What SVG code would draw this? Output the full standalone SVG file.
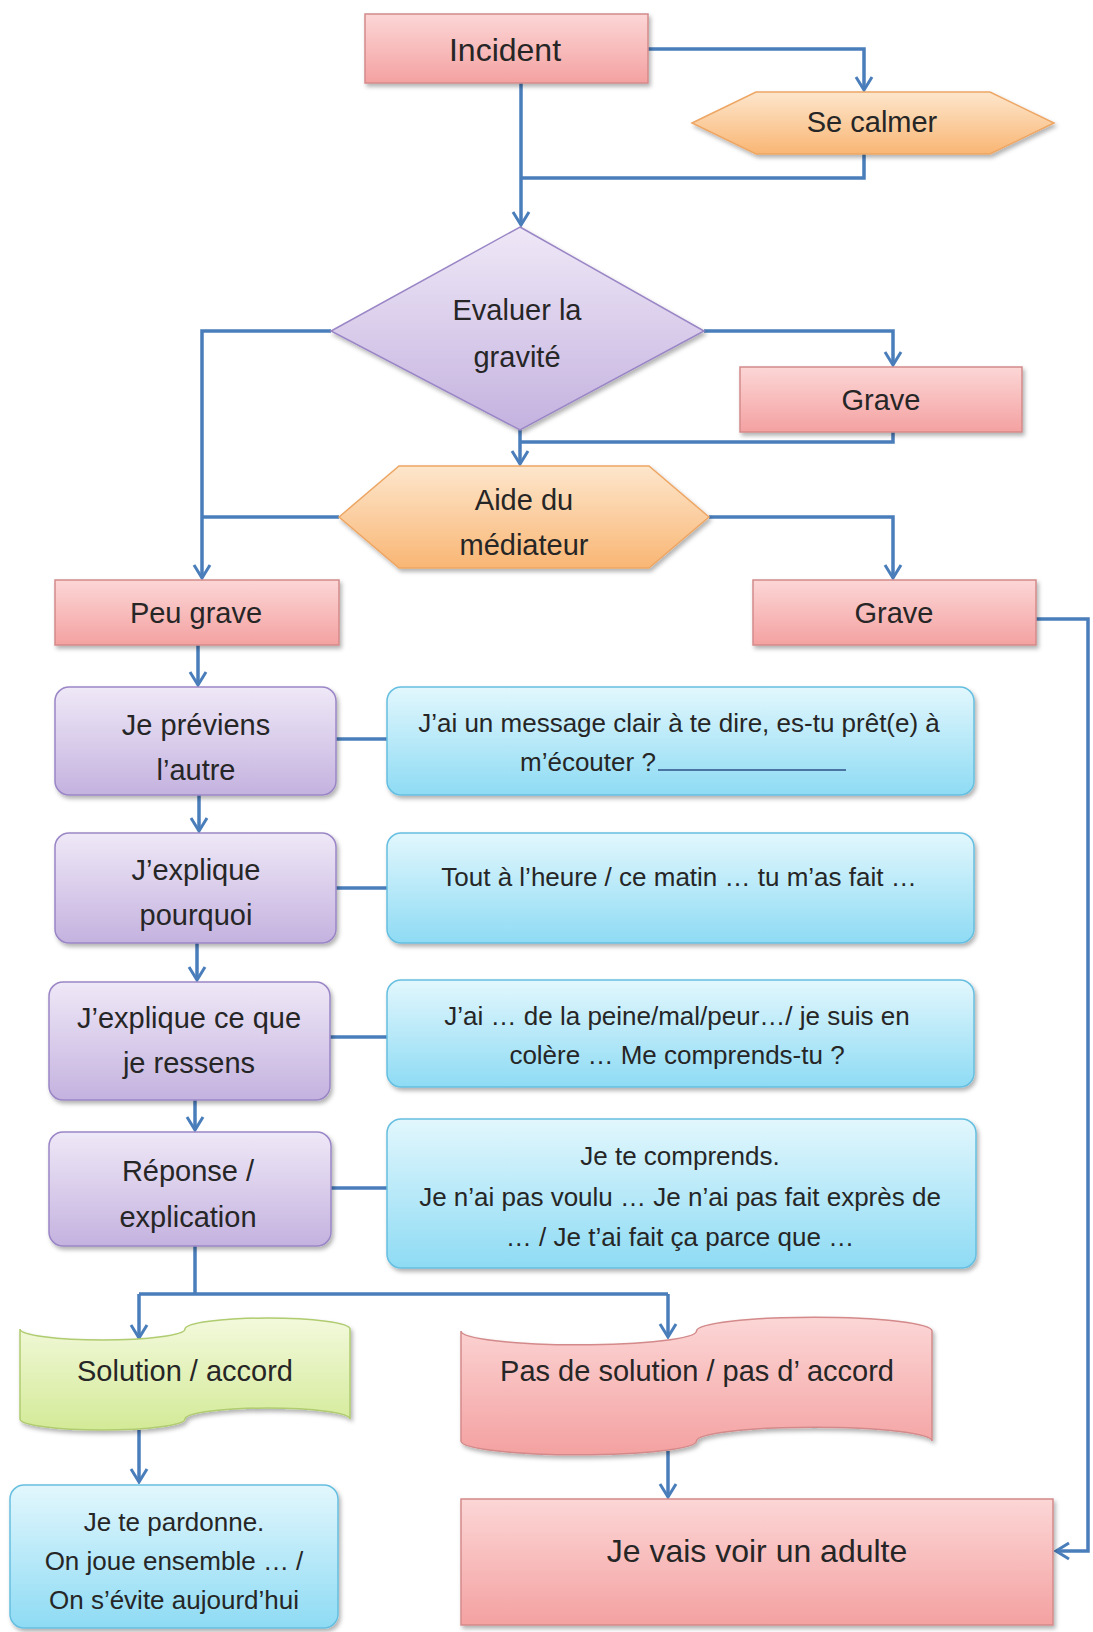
<svg xmlns="http://www.w3.org/2000/svg" width="1093" height="1632" viewBox="0 0 1093 1632">
<defs>
<linearGradient id="gPink" x1="0" y1="0" x2="0" y2="1"><stop offset="0" stop-color="#fcd6d6"/><stop offset="1" stop-color="#f4a1a1"/></linearGradient>
<linearGradient id="gOrange" x1="0" y1="0" x2="0" y2="1"><stop offset="0" stop-color="#fde6cc"/><stop offset="1" stop-color="#f9b674"/></linearGradient>
<linearGradient id="gPurple" x1="0" y1="0" x2="0" y2="1"><stop offset="0" stop-color="#efe8f7"/><stop offset="1" stop-color="#c4b2df"/></linearGradient>
<linearGradient id="gBlue" x1="0" y1="0" x2="0" y2="1"><stop offset="0" stop-color="#e2f7fd"/><stop offset="1" stop-color="#8edbf4"/></linearGradient>
<linearGradient id="gGreen" x1="0" y1="0" x2="0" y2="1"><stop offset="0" stop-color="#f3f9dc"/><stop offset="1" stop-color="#d3ea97"/></linearGradient>
<filter id="sh" x="-10%" y="-10%" width="125%" height="130%"><feDropShadow dx="2" dy="3" stdDeviation="2" flood-color="#000" flood-opacity="0.3"/></filter>
<marker id="arr" viewBox="0 0 16 20" refX="14" refY="10" markerWidth="16" markerHeight="20" markerUnits="userSpaceOnUse" orient="auto"><path d="M1,2 L14,10 L1,18" fill="none" stroke="#4a7ebb" stroke-width="3"/></marker>
<style>
.pink{fill:url(#gPink);stroke:#d48a8a;stroke-width:1.5;filter:url(#sh)}
.orange{fill:url(#gOrange);stroke:#eda664;stroke-width:1.5;filter:url(#sh)}
.purple{fill:url(#gPurple);stroke:#9a86c6;stroke-width:1.5;filter:url(#sh)}
.blue{fill:url(#gBlue);stroke:#66bfe0;stroke-width:1.5;filter:url(#sh)}
.green{fill:url(#gGreen);stroke:#b0cc70;stroke-width:1.5;filter:url(#sh)}
text{font-family:"Liberation Sans",Arial,sans-serif;fill:#262626;text-anchor:middle}
.n{font-size:29px}
.b{font-size:26px}
.c{fill:none;stroke:#4a7ebb;stroke-width:3.5}
.ca{fill:none;stroke:#4a7ebb;stroke-width:3.5;marker-end:url(#arr)}
</style>
</defs>
<rect width="1093" height="1632" fill="#ffffff"/>

<g id="connectors">
<path class="ca" d="M647,49 H864 V90"/>
<path class="ca" d="M521,83 V225"/>
<path class="c" d="M864,154 V178 H521"/>
<path class="ca" d="M331,331 H202 V578"/>
<path class="ca" d="M704,331 H893 V365"/>
<path class="ca" d="M520,430 V464"/>
<path class="c" d="M893,432 V442 H520"/>
<path class="c" d="M339,517 H202"/>
<path class="ca" d="M709,517 H893 V578"/>
<path class="ca" d="M1036,619 H1088 V1551 H1056"/>
<path class="ca" d="M198,645 V685"/>
<path class="c" d="M336,739 H387"/>
<path class="ca" d="M199,795 V831"/>
<path class="c" d="M336,888 H387"/>
<path class="ca" d="M197,943 V980"/>
<path class="c" d="M330,1037 H387"/>
<path class="ca" d="M195,1100 V1130"/>
<path class="c" d="M331,1188 H387"/>
<path class="c" d="M195,1246 V1294 M139,1294 H668"/>
<path class="ca" d="M139,1294 V1338"/>
<path class="ca" d="M668,1294 V1337"/>
<path class="ca" d="M139,1430 V1482"/>
<path class="ca" d="M668,1451 V1497"/>
</g>

<g id="incident"><rect class="pink" x="365" y="14" width="283" height="69"/><text x="505" y="61" style="font-size:32px">Incident</text></g>
<g id="se-calmer"><polygon class="orange" points="692,123 756,92 990,92 1054,123 990,154 756,154"/><text class="n" x="872" y="132">Se calmer</text></g>
<g id="evaluer"><polygon class="purple" points="520,227 704,331 520,430 331,331"/><text class="n" x="517" y="320">Evaluer la</text><text class="n" x="517" y="367">gravité</text></g>
<g id="grave1"><rect class="pink" x="740" y="367" width="282" height="65"/><text class="n" x="881" y="410">Grave</text></g>
<g id="aide"><polygon class="orange" points="339,517 399,466 649,466 709,517 649,568 399,568"/><text class="n" x="524" y="510">Aide du</text><text class="n" x="524" y="555">médiateur</text></g>
<g id="peu-grave"><rect class="pink" x="55" y="580" width="284" height="65"/><text class="n" x="196" y="623">Peu grave</text></g>
<g id="grave2"><rect class="pink" x="753" y="580" width="283" height="65"/><text class="n" x="894" y="623">Grave</text></g>

<g id="je-previens"><rect class="purple" x="55" y="687" width="281" height="108" rx="14"/><text class="n" x="196" y="735">Je préviens</text><text class="n" x="196" y="780">l’autre</text></g>
<g id="msg1"><rect class="blue" x="387" y="687" width="587" height="108" rx="14"/><text class="b" x="679" y="732">J’ai un message clair à te dire, es-tu prêt(e) à</text><text class="b" x="520" y="771" style="text-anchor:start">m’écouter ?</text><line x1="658" y1="770" x2="846" y2="770" stroke="#2f4f86" stroke-width="1.5"/></g>

<g id="explique-pourquoi"><rect class="purple" x="55" y="833" width="281" height="110" rx="14"/><text class="n" x="196" y="880">J’explique</text><text class="n" x="196" y="925">pourquoi</text></g>
<g id="msg2"><rect class="blue" x="387" y="833" width="587" height="110" rx="14"/><text class="b" x="679" y="886">Tout à l’heure / ce matin … tu m’as fait …</text></g>

<g id="explique-ressens"><rect class="purple" x="49" y="982" width="281" height="118" rx="14"/><text class="n" x="189" y="1028">J’explique ce que</text><text class="n" x="189" y="1073">je ressens</text></g>
<g id="msg3"><rect class="blue" x="387" y="980" width="587" height="107" rx="14"/><text class="b" x="677" y="1025">J’ai … de la peine/mal/peur…/ je suis en</text><text class="b" x="677" y="1064">colère … Me comprends-tu ?</text></g>

<g id="reponse"><rect class="purple" x="49" y="1132" width="282" height="114" rx="14"/><text class="n" x="188" y="1181">Réponse /</text><text class="n" x="188" y="1227">explication</text></g>
<g id="msg4"><rect class="blue" x="387" y="1119" width="589" height="149" rx="14"/><text class="b" x="680" y="1165">Je te comprends.</text><text class="b" x="680" y="1206">Je n’ai pas voulu … Je n’ai pas fait exprès de</text><text class="b" x="680" y="1246">… / Je t’ai fait ça parce que …</text></g>

<g id="solution"><path class="green" d="M20,1329 A82.5,11 0 0 0 185,1329 A82.5,11 0 0 1 350,1329 L350,1419 A82.5,11 0 0 0 185,1419 A82.5,11 0 0 1 20,1419 Z"/><text class="n" x="185" y="1381">Solution / accord</text></g>
<g id="pas-solution"><path class="pink" d="M461,1331 A117.75,13.8 0 0 0 696.5,1331 A117.75,13.8 0 0 1 932,1331 L932,1441 A117.75,13.8 0 0 0 696.5,1441 A117.75,13.8 0 0 1 461,1441 Z"/><text class="n" x="697" y="1381">Pas de solution / pas d’ accord</text></g>

<g id="pardonne"><rect class="blue" x="10" y="1485" width="328" height="143" rx="14"/><text class="b" x="174" y="1531">Je te pardonne.</text><text class="b" x="174" y="1570">On joue ensemble … /</text><text class="b" x="174" y="1609">On s’évite aujourd’hui</text></g>
<g id="adulte"><rect class="pink" x="461" y="1499" width="592" height="126"/><text x="757" y="1562" style="font-size:32px">Je vais voir un adulte</text></g>
</svg>
